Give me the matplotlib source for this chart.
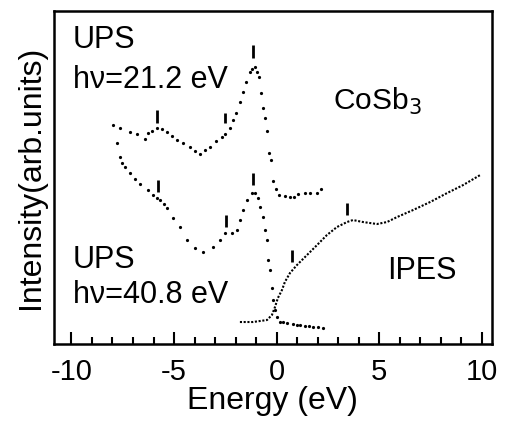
import matplotlib
matplotlib.use("Agg")
import matplotlib.pyplot as plt
from matplotlib.ticker import MultipleLocator

plt.rcParams['font.family'] = ['Liberation Sans', 'DejaVu Sans']

# UPS spectrum, hv = 21.2 eV
ups21_e = [-7.98, -7.64, -7.16, -6.81, -6.42, -6.28, -6.08, -5.84, -5.60, -5.35,
           -5.11, -4.86, -4.57, -4.23, -3.99, -3.74, -3.50, -3.25, -2.96, -2.67,
           -2.52, -2.28, -2.13, -1.99, -1.79, -1.64, -1.50, -1.30, -1.20, -1.06,
           -0.96, -0.86, -0.77, -0.67, -0.57, -0.47, -0.38, -0.28, -0.18, -0.03,
           0.11, 0.40, 0.65, 0.84, 1.04, 1.38, 1.62, 1.97, 2.16]
ups21_i = [65.7, 64.8, 63.6, 63.0, 61.5, 63.3, 63.9, 64.8, 64.5, 63.6,
           62.4, 61.2, 60.3, 59.1, 57.9, 57.0, 58.2, 59.1, 60.9, 62.1,
           63.0, 64.8, 67.2, 69.3, 72.6, 75.6, 78.6, 81.6, 82.5, 83.1,
           81.6, 80.1, 75.3, 70.8, 67.8, 63.9, 57.3, 55.2, 48.9, 46.5,
           44.7, 44.4, 44.1, 44.1, 45.0, 45.3, 45.3, 45.3, 46.5]

# UPS spectrum, hv = 40.8 eV
ups40_e = [-7.79, -7.64, -7.55, -7.40, -7.16, -6.91, -6.67, -6.28, -6.03, -5.84,
           -5.69, -5.49, -5.35, -5.06, -4.72, -4.38, -3.99, -3.60, -3.11, -2.77,
           -2.52, -2.18, -1.94, -1.79, -1.64, -1.45, -1.20, -1.06, -0.91, -0.81,
           -0.67, -0.57, -0.47, -0.42, -0.33, -0.23, -0.18, -0.08, 0.01, 0.16,
           0.30, 0.50, 0.80, 1.00, 1.14, 1.40, 1.60, 1.77, 2.00, 2.26]
ups40_i = [60.3, 56.1, 54.3, 53.1, 51.3, 49.5, 48.0, 46.2, 44.7, 43.8,
           43.2, 42.0, 40.8, 37.8, 35.1, 31.2, 28.8, 27.6, 29.1, 31.2,
           33.3, 33.3, 34.2, 37.2, 40.2, 43.2, 45.3, 45.3, 43.8, 41.1,
           38.1, 34.2, 31.2, 25.2, 22.2, 16.8, 13.2, 10.2, 8.1, 6.6,
           6.5, 6.3, 6.0, 5.8, 5.7, 5.5, 5.3, 5.1, 5.0, 4.8]

# IPES spectrum
ipes_e = [-1.79, -1.16, -0.47, -0.23, -0.08, 0.06, 0.26, 0.40, 0.65, 0.99,
          1.48, 1.97, 2.45, 2.94, 3.43, 3.72, 4.21, 4.89, 5.38, 5.87,
          6.65, 7.48, 8.31, 9.09, 9.92]
ipes_i = [6.6, 6.6, 7.2, 8.7, 11.1, 13.8, 16.2, 18.6, 21.3, 23.7,
          26.7, 29.7, 32.7, 35.1, 36.6, 37.2, 36.6, 36.0, 36.6, 38.1,
          40.2, 42.6, 45.3, 47.7, 50.7]

# Feature markers: energy, lower and upper end of the bar
feat_e = [-5.84, -2.52, -1.16, -5.78, -2.46, -1.16, 0.75, 3.43]
feat_lo = [66.3, 66.3, 85.8, 45.6, 35.1, 47.7, 24.6, 38.7]
feat_hi = [70.2, 69.3, 89.7, 49.2, 38.7, 51.3, 28.2, 42.3]

xticks = [-10, -5, 0, 5, 10]

fig = plt.figure(figsize=(5.07, 4.22), dpi=100)
ax = fig.add_axes([0.1065, 0.1848, 0.8633, 0.7898])

ax.plot(ups21_e, ups21_i, 'o', color='black', ms=2.3, mew=0)
ax.plot(ups40_e, ups40_i, 'o', color='black', ms=2.3, mew=0)
ax.plot(ipes_e, ipes_i, color='black', lw=1.5, ls=(0, (1, 0.8)))
ax.vlines(feat_e, feat_lo, feat_hi, color='black', lw=2.0)

ax.set_xlim(-10.85, 10.48)
ax.set_ylim(0, 100)
ax.set_xticks(xticks)
ax.set_xticklabels([str(t) for t in xticks])
ax.xaxis.set_minor_locator(MultipleLocator(1))
ax.set_yticks([])
ax.tick_params(axis='x', which='major', direction='in', length=9, width=1.5,
               labelsize=21, pad=10, top=False)
ax.tick_params(axis='x', which='minor', direction='in', length=5, width=1.5,
               top=False)
for s in ax.spines.values():
    s.set_linewidth(1.8)

ax.set_xlabel('Energy (eV)', fontsize=23, labelpad=0)
ax.set_ylabel('Intensity(arb.units)', fontsize=23, labelpad=6)

tkw = dict(fontsize=22, ha='left', va='baseline')
ax.text(-9.93, 88.8, 'UPS', **tkw)
ax.text(-9.93, 76.8, 'hν=21.2 eV', **tkw)
ax.text(2.75, 70.2, 'CoSb$_3$', fontsize=21.5, ha='left', va='baseline')
ax.text(-9.93, 22.8, 'UPS', **tkw)
ax.text(-9.93, 12.3, 'hν=40.8 eV', **tkw)
ax.text(5.38, 19.5, 'IPES', **tkw)

fig.savefig('out.png', dpi=100)
